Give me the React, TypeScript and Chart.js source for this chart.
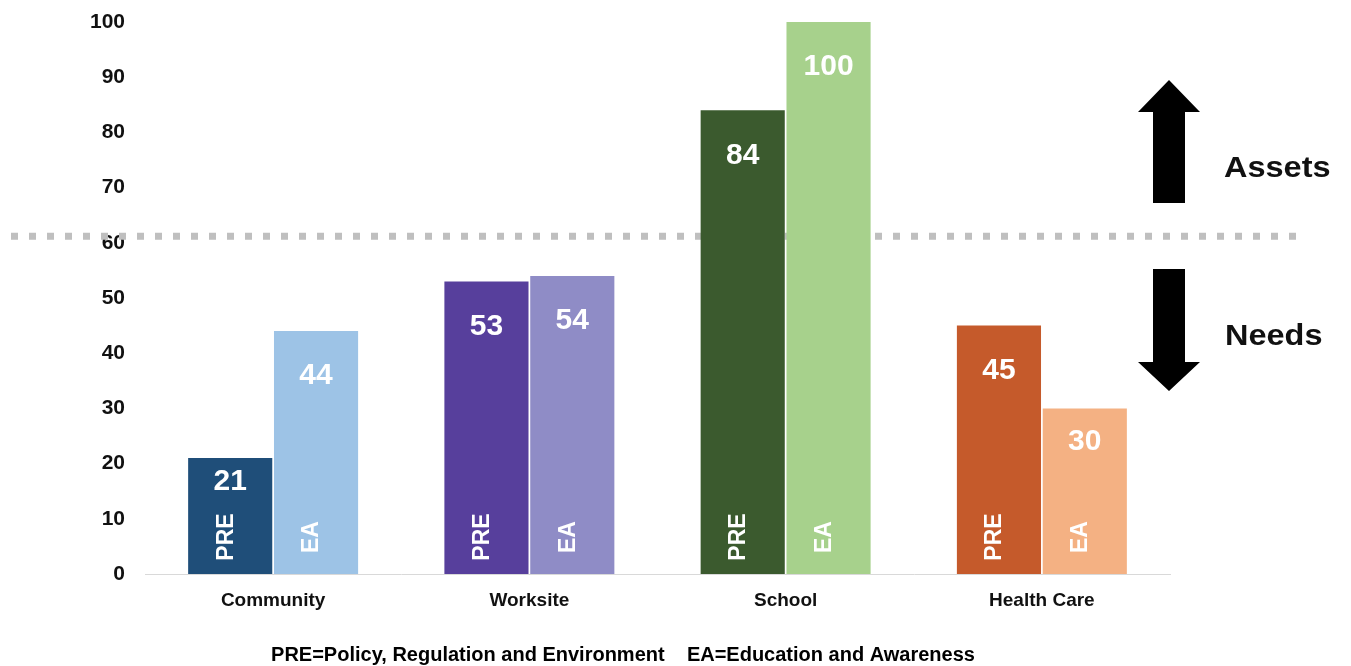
import React, { useEffect, useRef } from "react";
import { Chart, registerables } from "chart.js";

Chart.register(...registerables);

const categories = ["Community", "Worksite", "School", "Health Care"];
const preValues = [21, 53, 84, 45];
const eaValues = [44, 54, 100, 30];
const preColors = ["#1f4e79", "#573f9c", "#3b5a2e", "#c55a2b"];
const eaColors = ["#9dc3e6", "#8f8cc6", "#a7d18c", "#f4b183"];
const yTicks = [0, 10, 20, 30, 40, 50, 60, 70, 80, 90, 100];
const threshold = 61.2;
const seriesShort = ["PRE", "EA"];
const footnote = "PRE=Policy, Regulation and Environment    EA=Education and Awareness";
const upLabel = "Assets";
const downLabel = "Needs";

const FONT = "'Liberation Sans', Arial, sans-serif";

const decorPlugin = {
  id: "decor",
  beforeDatasetsDraw(chart: any) {
    const { ctx } = chart;
    const y = chart.scales.y.getPixelForValue(threshold);
    ctx.save();
    ctx.strokeStyle = "#bfbfbf";
    ctx.lineWidth = 7;
    ctx.setLineDash([7, 11]);
    ctx.beginPath();
    ctx.moveTo(11, y);
    ctx.lineTo(1306, y);
    ctx.stroke();
    ctx.restore();
  },
  afterDatasetsDraw(chart: any) {
    const { ctx } = chart;
    const base = chart.scales.y.getPixelForValue(0);
    ctx.save();
    ctx.fillStyle = "#ffffff";
    chart.data.datasets.forEach((ds: any, di: number) => {
      const meta = chart.getDatasetMeta(di);
      meta.data.forEach((bar: any, i: number) => {
        const v = ds.data[i];
        const h = base - bar.y;
        const off = Math.min(45, h * 0.2);
        ctx.font = `bold 30px ${FONT}`;
        ctx.textAlign = "center";
        ctx.textBaseline = "middle";
        ctx.fillText(String(v), bar.x, bar.y + off);
        ctx.save();
        ctx.translate(bar.x - 4, base - 37);
        ctx.rotate(-Math.PI / 2);
        ctx.font = `bold 23px ${FONT}`;
        ctx.textAlign = "center";
        ctx.textBaseline = "middle";
        ctx.fillText(seriesShort[di], 0, 0);
        ctx.restore();
      });
    });
    ctx.restore();
  },
  afterDraw(chart: any) {
    const { ctx } = chart;
    ctx.save();
    ctx.fillStyle = "#000000";
    const cx = 1169;
    ctx.beginPath();
    ctx.moveTo(cx, 80);
    ctx.lineTo(cx + 31, 112);
    ctx.lineTo(cx + 16, 112);
    ctx.lineTo(cx + 16, 203);
    ctx.lineTo(cx - 16, 203);
    ctx.lineTo(cx - 16, 112);
    ctx.lineTo(cx - 31, 112);
    ctx.closePath();
    ctx.fill();
    ctx.beginPath();
    ctx.moveTo(cx, 391);
    ctx.lineTo(cx + 31, 362);
    ctx.lineTo(cx + 16, 362);
    ctx.lineTo(cx + 16, 269);
    ctx.lineTo(cx - 16, 269);
    ctx.lineTo(cx - 16, 362);
    ctx.lineTo(cx - 31, 362);
    ctx.closePath();
    ctx.fill();
    ctx.fillStyle = "#111111";
    ctx.font = `bold 29px ${FONT}`;
    ctx.textAlign = "left";
    ctx.textBaseline = "middle";
    ctx.save();
    ctx.translate(1224, 169);
    ctx.scale(1.12, 1);
    ctx.fillText(upLabel, 0, 0);
    ctx.restore();
    ctx.save();
    ctx.translate(1225, 337);
    ctx.scale(1.12, 1);
    ctx.fillText(downLabel, 0, 0);
    ctx.restore();
    ctx.font = `bold 20px ${FONT}`;
    ctx.textAlign = "center";
    ctx.fillStyle = "#000000";
    ctx.fillText(footnote, 623, 655);
    ctx.restore();
  },
};

export default function App() {
  const ref = useRef<HTMLCanvasElement | null>(null);
  useEffect(() => {
    if (!ref.current) return;
    const chart = new Chart(ref.current, {
      type: "bar",
      data: {
        labels: categories,
        datasets: [
          {
            label: "PRE",
            data: preValues,
            backgroundColor: preColors,
            categoryPercentage: 0.67,
            barPercentage: 0.98,
          },
          {
            label: "EA",
            data: eaValues,
            backgroundColor: eaColors,
            categoryPercentage: 0.67,
            barPercentage: 0.98,
          },
        ],
      },
      options: {
        animation: false,
        responsive: true,
        maintainAspectRatio: false,
        layout: { padding: { left: 0, right: 181, top: 22, bottom: 0 } },
        plugins: {
          legend: { display: false },
          tooltip: { enabled: false },
        },
        scales: {
          x: {
            grid: { display: false },
            border: { display: true, color: "#d9d9d9", width: 1 },
            ticks: {
              color: "#111111",
              font: { family: FONT, size: 19, weight: "bold" },
              padding: 7,
            },
            afterFit: (s: any) => {
              s.height = 92;
              s.paddingLeft = 0;
              s.paddingRight = 0;
            },
          },
          y: {
            min: 0,
            max: 100,
            afterBuildTicks: (s: any) => {
              s.ticks = yTicks.map((v) => ({ value: v }));
            },
            grid: { display: false },
            border: { display: false },
            ticks: {
              color: "#111111",
              font: { family: FONT, size: 21, weight: "bold" },
              padding: 12,
            },
            afterFit: (s: any) => {
              s.width = 145;
              s.paddingTop = 0;
              s.paddingBottom = 0;
            },
          },
        },
      },
      plugins: [decorPlugin],
    });
    return () => chart.destroy();
  }, []);
  return (
    <div style={{ position: "fixed", left: 0, top: 0, width: 1351, height: 666, background: "#fff" }}>
      <canvas ref={ref} />
    </div>
  );
}
